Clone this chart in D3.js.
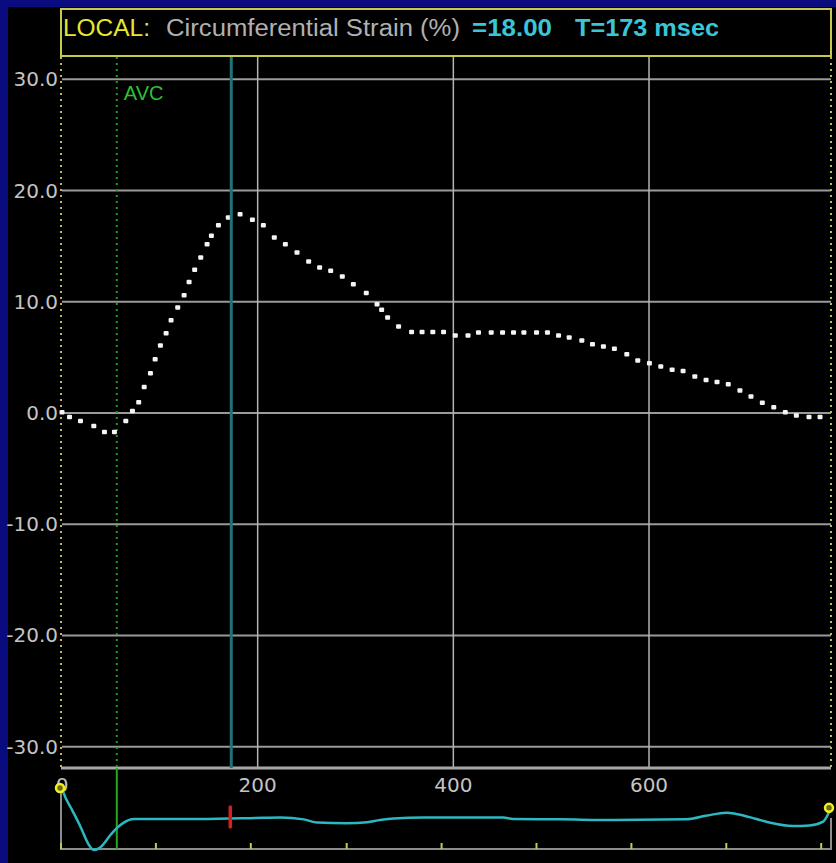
<!DOCTYPE html>
<html>
<head>
<meta charset="utf-8">
<script src="https://cdn.jsdelivr.net/npm/d3@7"></script>
<style>
  html, body { margin: 0; padding: 0; background: #000; }
  svg { display: block; }
</style>
</head>
<body>
<svg id="strain_svg" width="836" height="863"></svg>
<script>
// strain curve (ms, %)
var strainTime = [0, 7.7, 18.9, 32.5, 43.4, 53.6, 65.2, 72, 78.4, 84, 90.4, 95.2, 100.6, 106.4, 111.5,
    118.3, 124.8, 129.9, 135.6, 141.8, 148.3, 152.7, 159.9, 170, 182, 194.6, 205.8, 217, 228.3,
    240.2, 252.1, 263.3, 274.6, 286.5, 297.8, 311, 322, 326.7, 332.8, 344, 357.3, 368, 379, 390,
    402, 415, 425.7, 438.7, 450.3, 461.5, 472.1, 485, 496.2, 507.5, 518.4, 531.3, 542.2, 553.4,
    564.6, 577.3, 588.5, 600.4, 612, 623.6, 634.8, 646.8, 658.3, 669.5, 681, 692.9, 704.2, 715.8,
    727.5, 739.3, 750.6, 763.5, 774.8];
var strainValue = [0.1, -0.33, -0.7, -1.15, -1.68, -1.68, -0.7, 0.2, 1.0, 2.35, 3.6, 4.85, 6.1, 7.2, 8.35,
    9.5, 10.6, 11.8, 12.9, 14.0, 15.2, 15.95, 16.9, 17.6, 17.9, 17.4, 16.9, 15.8, 15.2,
    14.45, 13.65, 13.1, 12.8, 12.3, 11.6, 10.8, 9.8, 9.3, 8.6, 7.8, 7.3, 7.3, 7.3, 7.3,
    7.0, 7.0, 7.25, 7.25, 7.25, 7.25, 7.25, 7.25, 7.25, 7.0, 6.8, 6.55, 6.2, 6.0,
    5.8, 5.3, 4.75, 4.5, 4.2, 3.9, 3.8, 3.3, 3.0, 2.8, 2.6, 2.05, 1.5, 0.95,
    0.55, 0.1, -0.2, -0.33, -0.33];

// lower trace (ms, relative units)
var traceTime = [0, 1.8, 10.4, 18.9, 27.5, 32.6, 39.3, 49.5, 55.7, 63.2, 73.4, 142, 206, 223, 247, 261,
    291, 312, 325, 339, 370, 451, 461, 509, 565, 638, 658, 679, 689, 709, 723, 747, 764, 778, 786];
var traceValue = [1.0, 0.83, 0.31, -0.21, -0.78, -0.94, -0.85, -0.47, -0.26, -0.08, 0.03, 0.03, 0.07, 0.08,
    0.02, -0.08, -0.1, -0.07, 0, 0.05, 0.08, 0.08, 0.03, 0.02, 0, 0.02, 0.13, 0.23, 0.19, 0.04,
    -0.08, -0.19, -0.17, -0.05, 0.38];

var yTicks = [30, 20, 10, 0, -10, -20, -30];
var xTicks = [0, 200, 400, 600];
var xGrid = [200, 400, 600];
var stripTicks = [0, 97, 194, 292, 389, 486, 583, 680, 777];
var avcTime = 56;
var cursorTime = 173;
var cursorValue = 18.0;
var endTime = 786;

var svg = d3.select("#strain_svg");

var x = d3.scaleLinear().domain([0, endTime]).range([62, 831]);
var y = d3.scaleLinear().domain([-30, 30]).range([746.7, 79.3]);
var ty = d3.scaleLinear().domain([-1, 1]).range([852, 788]);

var plotTop = 57, plotBottom = 768, stripBottom = 849;

// navy frame
svg.append("rect").attr("width", 836).attr("height", 863).attr("fill", "#0b0b80");
svg.append("rect").attr("x", 8).attr("y", 7).attr("width", 828).attr("height", 856).attr("fill", "#000");

// header box
svg.append("rect")
    .attr("x", 61).attr("y", 9).attr("width", 770).attr("height", 47)
    .attr("fill", "none").attr("stroke", "#c9c84e").attr("stroke-width", 2);

var header = [
    { t: "LOCAL:", x: 63, w: 87, c: "#e6e632", b: "normal" },
    { t: "Circumferential Strain (%)", x: 166, w: 294, c: "#b0b0b0", b: "normal" },
    { t: "=" + cursorValue.toFixed(2), x: 472, w: 80, c: "#39c6d6", b: "bold" },
    { t: "T=" + cursorTime + " msec", x: 575, w: 144, c: "#39c6d6", b: "bold" }
];
svg.append("g").selectAll("text")
    .data(header)
    .enter()
    .append("text")
    .attr("x", d => d.x)
    .attr("y", 36)
    .attr("textLength", d => d.w)
    .attr("lengthAdjust", "spacingAndGlyphs")
    .style("font-family", "Arial, 'Liberation Sans', sans-serif")
    .style("font-size", "23px")
    .style("font-weight", d => d.b)
    .style("fill", d => d.c)
    .text(d => d.t);

// horizontal grid
svg.append("g").selectAll("line")
    .data(yTicks)
    .enter()
    .append("line")
    .attr("x1", x(0)).attr("x2", 831)
    .attr("y1", d => y(d)).attr("y2", d => y(d))
    .attr("stroke", "#9a9a9a").attr("stroke-width", 2);

// vertical grid
svg.append("g").selectAll("line")
    .data(xGrid)
    .enter()
    .append("line")
    .attr("x1", d => x(d)).attr("x2", d => x(d))
    .attr("y1", plotTop).attr("y2", plotBottom)
    .attr("stroke", "#b4b4b4").attr("stroke-width", 1.5);

// y labels
svg.append("g").selectAll("text")
    .data(yTicks)
    .enter()
    .append("text")
    .attr("x", 58)
    .attr("y", d => y(d) + 7)
    .attr("text-anchor", "end")
    .style("font-family", "'DejaVu Sans', sans-serif")
    .style("font-size", "20px")
    .style("fill", "#c4c4c4")
    .text(d => d.toFixed(1));

// plot frame: dotted sides, solid bottom
svg.append("line")
    .attr("x1", 61).attr("x2", 61).attr("y1", plotTop).attr("y2", plotBottom)
    .attr("stroke", "#b8b860").attr("stroke-width", 2).attr("stroke-dasharray", "2 4");
svg.append("line")
    .attr("x1", 831).attr("x2", 831).attr("y1", plotTop).attr("y2", plotBottom)
    .attr("stroke", "#b8b860").attr("stroke-width", 2).attr("stroke-dasharray", "2 4");
svg.append("line")
    .attr("x1", 61).attr("x2", 831).attr("y1", plotBottom).attr("y2", plotBottom)
    .attr("stroke", "#a8a8a8").attr("stroke-width", 3);

// AVC marker
svg.append("line")
    .attr("x1", x(avcTime)).attr("x2", x(avcTime)).attr("y1", plotTop).attr("y2", plotBottom)
    .attr("stroke", "#1f9a1f").attr("stroke-width", 2).attr("stroke-dasharray", "2 4");
svg.append("text")
    .attr("x", x(avcTime) + 7).attr("y", 100)
    .style("font-family", "Arial, 'Liberation Sans', sans-serif")
    .style("font-size", "20px")
    .style("fill", "#2fc02f")
    .text("AVC");

// strain dots
svg.append("g").selectAll("rect")
    .data(strainTime.map((t, i) => ({ t: t, v: strainValue[i] })))
    .enter()
    .append("rect")
    .attr("x", d => x(d.t) - 2.5)
    .attr("y", d => y(d.v) - 2)
    .attr("width", 5).attr("height", 4.5).attr("rx", 1)
    .attr("fill", "#f4f4f4");

// cursor
svg.append("line")
    .attr("x1", x(cursorTime)).attr("x2", x(cursorTime)).attr("y1", plotTop).attr("y2", plotBottom)
    .attr("stroke", "#24717a").attr("stroke-width", 3);

// x labels
svg.append("g").selectAll("text")
    .data(xTicks)
    .enter()
    .append("text")
    .attr("x", d => x(d))
    .attr("y", 792)
    .attr("text-anchor", "middle")
    .style("font-family", "'DejaVu Sans', sans-serif")
    .style("font-size", "20px")
    .style("fill", "#c4c4c4")
    .text(d => d);

// lower strip frame
svg.append("path")
    .attr("d", "M61,790 V" + stripBottom + " H831 V818")
    .attr("fill", "none").attr("stroke", "#8c8c8c").attr("stroke-width", 2);
svg.append("g").selectAll("line")
    .data(stripTicks)
    .enter()
    .append("line")
    .attr("x1", d => x(d) - 1).attr("x2", d => x(d) - 1)
    .attr("y1", stripBottom - 6).attr("y2", stripBottom)
    .attr("stroke", "#c9c84e").attr("stroke-width", 2);
svg.append("line")
    .attr("x1", x(avcTime)).attr("x2", x(avcTime)).attr("y1", plotBottom).attr("y2", stripBottom)
    .attr("stroke", "#22a822").attr("stroke-width", 2);

// lower trace
var traceLine = d3.line()
    .x(d => x(d.t))
    .y(d => ty(d.v))
    .curve(d3.curveMonotoneX);
svg.append("path")
    .datum(traceTime.map((t, i) => ({ t: t, v: traceValue[i] })))
    .attr("fill", "none")
    .attr("stroke", "#2bb8c0")
    .attr("stroke-width", 2.5)
    .attr("d", traceLine);

// red cursor marker on trace
svg.append("line")
    .attr("x1", x(cursorTime) - 1).attr("x2", x(cursorTime) - 1)
    .attr("y1", 807).attr("y2", 827)
    .attr("stroke", "#d42020").attr("stroke-width", 3.5).attr("stroke-linecap", "round");

// end handles
svg.append("g").selectAll("circle")
    .data([{ t: 0, v: traceValue[0] }, { t: endTime, v: traceValue[traceValue.length - 1] }])
    .enter()
    .append("circle")
    .attr("cx", d => x(d.t) - 2)
    .attr("cy", d => ty(d.v))
    .attr("r", 4)
    .attr("fill", "#6a6a10")
    .attr("stroke", "#f0f020")
    .attr("stroke-width", 2.5);
</script>
</body>
</html>
